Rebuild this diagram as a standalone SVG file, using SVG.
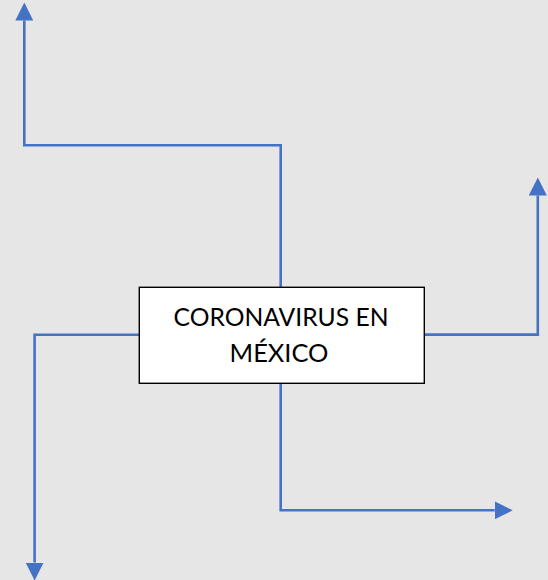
<svg xmlns="http://www.w3.org/2000/svg" width="548" height="580" viewBox="0 0 548 580">
  <style>
    .conn { fill: none; stroke: #4472c4; stroke-width: 2.6; stroke-linejoin: miter; }
    .box { fill: #ffffff; stroke: #000000; stroke-width: 1.4; }
    .label { font-family: Lato, "Liberation Sans", sans-serif; font-size: 25px; fill: #000000; text-anchor: middle; }
  </style>
  <defs>
    <marker id="arrow" markerUnits="userSpaceOnUse" markerWidth="18" markerHeight="18" viewBox="0 -8 16 16" refX="0" refY="0" orient="auto">
      <path d="M0,-8 L16,0 L0,8 Z" fill="#4472c4"/>
    </marker>
  </defs>
  <rect x="0" y="0" width="548" height="580" fill="#e7e6e6"/>
  <g id="connectors">
    <path class="conn" d="M280.7 287 V145.3 H24.3 V20.5" marker-end="url(#arrow)"/>
    <path class="conn" d="M424 334.6 H537.8 V195.5" marker-end="url(#arrow)"/>
    <path class="conn" d="M139 334.7 H34.6 V562.5" marker-end="url(#arrow)"/>
    <path class="conn" d="M280.7 383 V510.3 H494.7" marker-end="url(#arrow)"/>
  </g>
  <g id="node-coronavirus">
    <rect class="box" x="139.3" y="287.3" width="285" height="96"/>
    <text class="label" x="281" y="325.7" textLength="215" lengthAdjust="spacingAndGlyphs">CORONAVIRUS EN</text>
    <text class="label" x="279" y="362.3" textLength="99" lengthAdjust="spacingAndGlyphs">MÉXICO</text>
  </g>
</svg>
